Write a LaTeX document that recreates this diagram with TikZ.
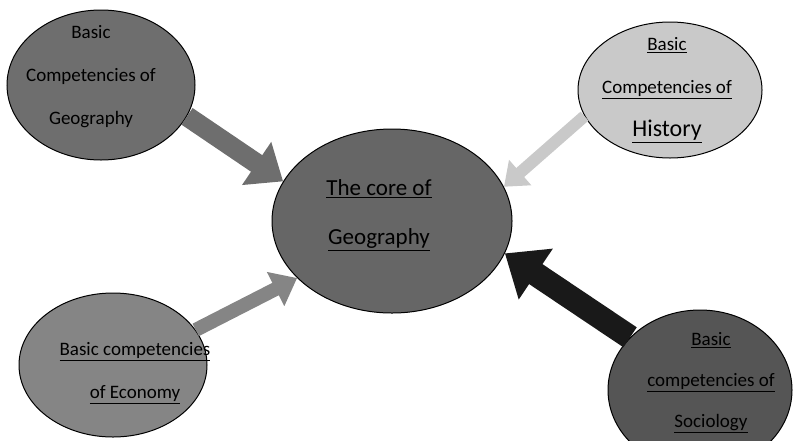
\documentclass[tikz,border=0pt]{standalone}
\usepackage{fontspec}
\setmainfont{Carlito}
\usetikzlibrary{shapes.geometric}
\usetikzlibrary{arrows.meta}
\usepackage{xcolor}

\definecolor{geogray}{HTML}{6E6E6E}
\definecolor{histgray}{HTML}{C9C9C9}
\definecolor{coregray}{HTML}{666666}
\definecolor{ecogray}{HTML}{858585}
\definecolor{sociogray}{HTML}{555555}

\begin{document}
\begin{tikzpicture}[x=1pt, y=-1pt,
	bubble/.style={ellipse, draw=black, line width=1pt, inner sep=0pt},
	words/.style={align=center, inner sep=0pt, font=\fontsize{19}{43}\selectfont},
	fat/.style={line width=#1, -{Triangle[length=1.3*#1+6pt, width=2.2*#1+6pt]}}]
	\useasboundingbox (0,0) rectangle (794,440);
	% the five bubbles
	\node[bubble, fill=geogray, minimum width=188pt, minimum height=150pt] (geo) at (101,85) {};
	\node[bubble, fill=histgray, minimum width=184pt, minimum height=136pt] (hist) at (670,90) {};
	\node[bubble, fill=coregray, minimum width=240pt, minimum height=184pt] (core) at (392,221) {};
	\node[bubble, fill=ecogray, minimum width=188pt, minimum height=144pt] (eco) at (113,365) {};
	\node[bubble, fill=sociogray, minimum width=184pt, minimum height=160pt] (socio) at (700,390) {};
	% their texts
	\node[words] (geotext) at (91,77) {Basic\\Competencies of\\Geography};
	\node[words] (histtext) at (667,90) {\underline{Basic}\\\underline{Competencies of}\\{\fontsize{24}{43}\selectfont\underline{History}}};
	\node[words, font=\fontsize{23}{49}\selectfont] (coretext) at (379,215) {\underline{The core of}\\\underline{Geography}};
	\node[words] (ecotext) at (135,373) {\underline{Basic competencies}\\\underline{of Economy}};
	\node[words, font=\fontsize{19}{41}\selectfont] (sociotext) at (711,383) {\underline{Basic}\\\underline{competencies of}\\\underline{Sociology}};
	% arrows into the core
	\draw[fat=20pt, draw=geogray] (geo.-20) -- (core.160);
	\draw[fat=12pt, draw=histgray] (hist.197) -- (core.17);
	\draw[fat=14pt, draw=ecogray] (eco.23) -- (core.211);
	\draw[fat=24pt, draw=black!90] (socio.143) -- (core.-16);
\end{tikzpicture}
\end{document}
